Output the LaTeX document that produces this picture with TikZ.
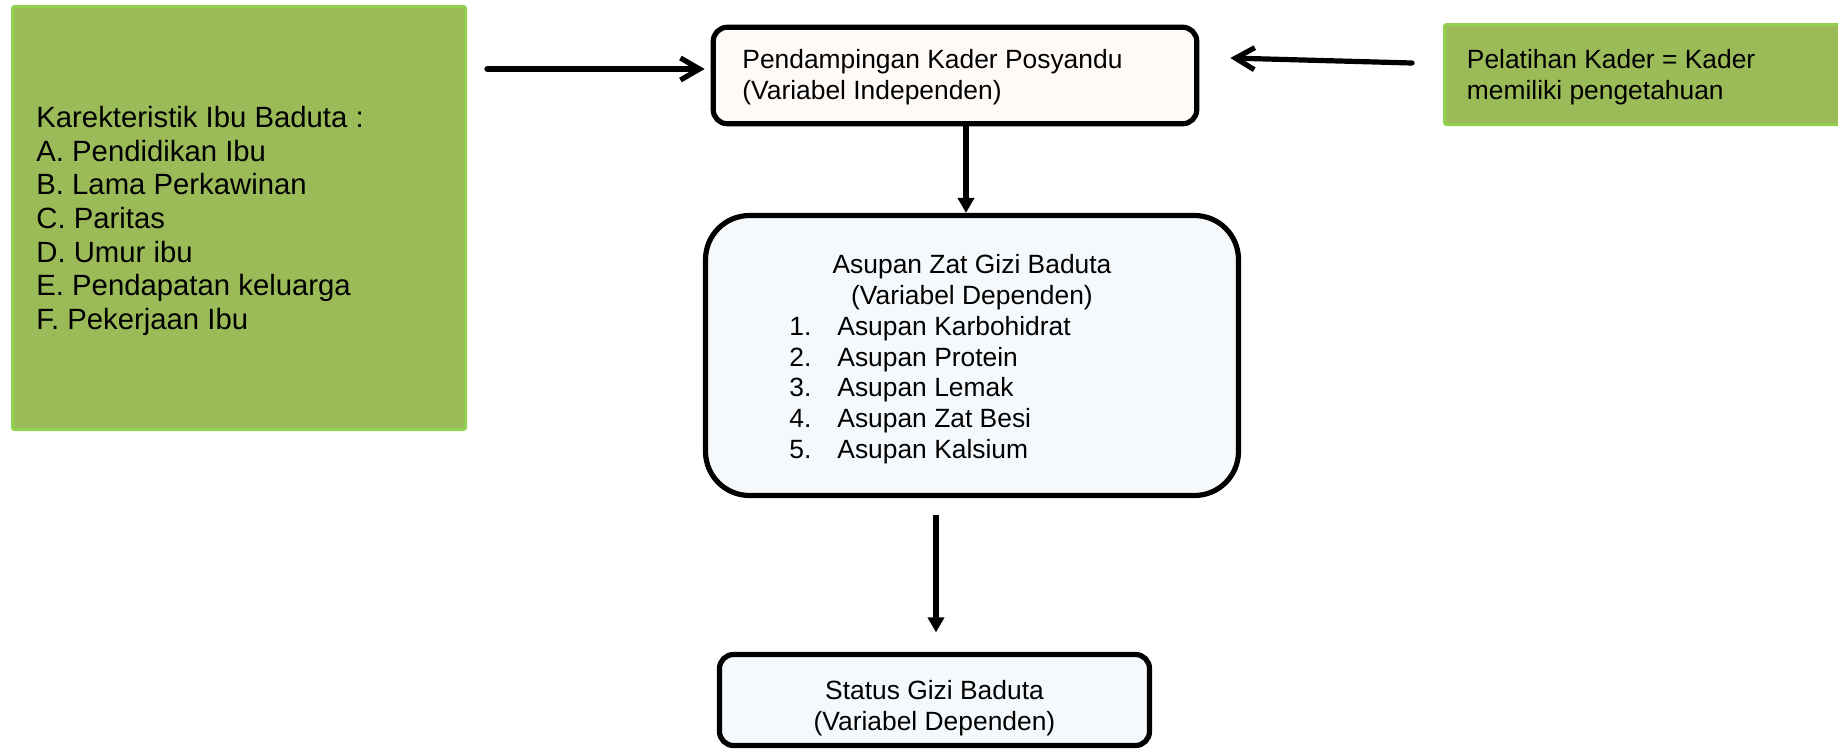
\documentclass[tikz,border=0pt]{standalone}
\usepackage{fontspec}
\setmainfont{Liberation Sans}
\usetikzlibrary{arrows.meta,calc}
\definecolor{gfill}{HTML}{9BBB59}
\definecolor{gline}{HTML}{92D050}
\definecolor{cream}{HTML}{FEFAF7}
\definecolor{ice}{HTML}{F5F9FC}
\tikzset{
  greenbox/.style={draw=gline, line width=1.5pt, fill=gfill, rounded corners=1pt, inner sep=0pt},
  mainbox/.style={draw=black, line width=2.6pt, inner sep=0pt},
  txt/.style={inner sep=0pt, font=\fontsize{13.2}{15.3}\selectfont},
  bigtxt/.style={inner sep=0pt, align=left, font=\fontsize{14.65}{16.85}\selectfont},
  barb/.style={line width=2.6pt, line cap=round, -{Straight Barb[length=9.5pt,width=11pt,line width=2.6pt]}},
  tri/.style={line width=2.8pt, -{Triangle[length=7.5pt,width=8pt]}},
}
\begin{document}
\begin{tikzpicture}[x=0.5pt,y=-0.5pt]
\useasboundingbox (0,0) rectangle (1838,751);
% boxes
\node[greenbox, minimum width=226.5pt, minimum height=211.5pt] (kar) at (239,218) {};
\node[greenbox, minimum width=202.75pt, minimum height=50pt] (pel) at (1647.25,74.5) {};
\node[mainbox, fill=cream, rounded corners=7pt, minimum width=241.75pt, minimum height=48.25pt] (pend) at (955,75.5) {};
\node[mainbox, fill=ice, rounded corners=22pt, minimum width=266.5pt, minimum height=140pt] (asup) at (972,355.5) {};
\node[mainbox, fill=ice, rounded corners=7pt, minimum width=215pt, minimum height=45.5pt] (stat) at (934.5,700) {};
% texts (base anchor = baseline of the last line)
\node[bigtxt, anchor=base west] (karT) at (36,329.5) {Karekteristik Ibu Baduta :\\A. Pendidikan Ibu\\B. Lama Perkawinan\\C. Paritas\\D. Umur ibu\\E. Pendapatan keluarga\\F. Pekerjaan Ibu};
\node[txt, align=left, anchor=base west] (pendT) at (742,99) {Pendampingan Kader Posyandu\\(Variabel Independen)};
\node[txt, align=left, anchor=base west] (pelT) at (1466.5,99) {Pelatihan Kader = Kader\\memiliki pengetahuan};
\node[txt, align=center, anchor=base] (asupT) at (972,304) {Asupan Zat Gizi Baduta\\(Variabel Dependen)};
\node[txt, align=left, anchor=base west] (asupL) at (789,458) {\makebox[24pt][l]{1.}Asupan Karbohidrat\\\makebox[24pt][l]{2.}Asupan Protein\\\makebox[24pt][l]{3.}Asupan Lemak\\\makebox[24pt][l]{4.}Asupan Zat Besi\\\makebox[24pt][l]{5.}Asupan Kalsium};
\node[txt, align=center, anchor=base] (statT) at (934.5,730) {Status Gizi Baduta\\(Variabel Dependen)};
% connectors
\coordinate (a1) at (487,69);
\draw[barb, shorten >=3pt] (a1) -- (pend.west |- a1);
\coordinate (a2) at (1412,63);
\draw[barb] (a2) -- ($(pend.east)+(31,-17.5)$);
\coordinate (v1) at (966,0);
\draw[tri] (pend.south -| v1) -- (asup.north -| v1);
\coordinate (v2) at (936,0);
\draw[tri, shorten <=8.25pt, shorten >=9.75pt] (asup.south -| v2) -- (stat.north -| v2);
\end{tikzpicture}
\end{document}
